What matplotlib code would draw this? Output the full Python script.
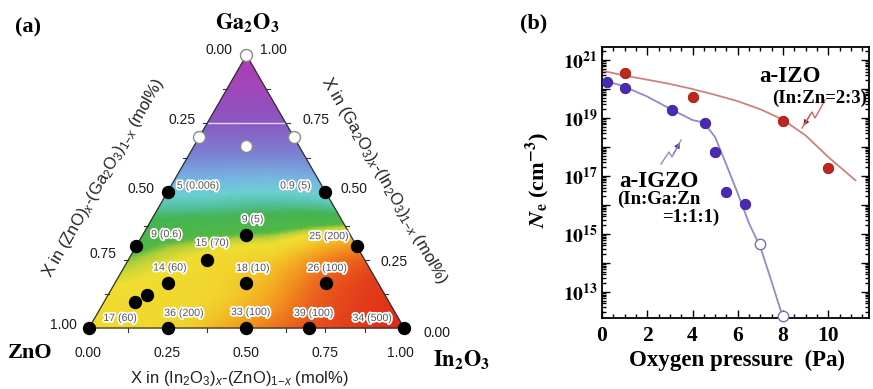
import numpy as np
import matplotlib
matplotlib.use('Agg')
import matplotlib.pyplot as plt
import matplotlib.tri as mtri
import matplotlib.patheffects as pe
from matplotlib.colors import LinearSegmentedColormap
from matplotlib.lines import Line2D
from matplotlib.patches import FancyArrowPatch
from matplotlib.ticker import MultipleLocator, FuncFormatter, NullFormatter, FixedLocator

plt.rcParams['mathtext.fontset'] = 'stix'
plt.rcParams['mathtext.rm'] = 'Liberation Sans'
plt.rcParams['mathtext.it'] = 'Liberation Sans:italic'
plt.rcParams['mathtext.bf'] = 'Liberation Sans:bold'

# ---------------- Panel (a) data: mole fractions (In2O3, Ga2O3); ZnO = rest
filled_in = [0.0, 0.25, 0.5, 0.7, 1.0, 0.0, 0.0, 0.5, 0.7, 0.33, 0.25, 1/6, 0.125, 0.1, 0.415, 0.67]
filled_ga = [0.0, 0.0, 0.0, 0.0, 0.0, 0.5, 0.3, 0.5, 0.3, 0.34, 0.25, 1/6, 0.12, 0.095, 0.165, 0.165]
point_labels = ['17 (60)', '36 (200)', '33 (100)', '39 (100)', '34 (500)', '5 (0.006)', '9 (0.6)',
                '0.9 (5)', '25 (200)', '9 (5)', '15 (70)', '14 (60)', '', '', '18 (10)', '26 (100)']
open_in = [0.0, 0.0, 0.3, 1/6]
open_ga = [1.0, 0.7, 0.7, 2/3]

# colour-map level on a 1/8 composition lattice (row = Ga2O3 fraction k/8)
field_rows = [
    [0.38, 0.38, 0.37, 0.32, 0.24, 0.16, 0.10, 0.05, 0.0],
    [0.39, 0.385, 0.375, 0.35, 0.29, 0.18, 0.10, 0.05],
    [0.44, 0.41, 0.385, 0.36, 0.32, 0.22, 0.14],
    [0.51, 0.50, 0.49, 0.48, 0.46, 0.44],
    [0.63, 0.63, 0.62, 0.62, 0.64],
    [0.74, 0.74, 0.74, 0.74],
    [0.85, 0.85, 0.85],
    [0.93, 0.93],
    [1.0],
]
axis_ticks = [0.0, 0.25, 0.5, 0.75, 1.0]
axis_ticklabels = ['0.00', '0.25', '0.50', '0.75', '1.00']

# ---------------- Panel (b) data
izo_p = [1.0, 4.0, 8.0, 10.0]
izo_ne = [3.5e20, 5.2e19, 7.9e18, 1.9e17]
igzo_p = [0.2, 1.0, 3.1, 4.55, 5.0, 5.5, 6.3]
igzo_ne = [1.7e20, 1.1e20, 1.9e19, 6.6e18, 6.5e17, 2.7e16, 1.1e16]
igzo_open_p = [7.0, 8.0]
igzo_open_ne = [4.6e14, 1.5e12]
izo_fit_p = [0, 1, 2, 3, 4, 5, 6, 7, 8, 9, 10, 11.2]
izo_fit_ne = [4.3e20, 2.9e20, 2.1e20, 1.5e20, 1.0e20, 6.3e19, 3.8e19, 2.0e19, 8.7e18, 2.5e18, 4.5e17, 7.1e16]
igzo_fit_p = [0, 0.5, 1, 2, 3, 4, 4.5, 5, 5.5, 6, 6.5, 7, 7.5, 8]
igzo_fit_ne = [2.0e20, 1.6e20, 1.2e20, 5.5e19, 2.1e19, 8.5e18, 7.0e18, 2.2e18, 2.4e17, 2.5e16, 2.3e15, 3.5e14, 2.2e13, 1.26e12]

W, H = 873, 389
fig = plt.figure(figsize=(W / 100, H / 100), dpi=100)

def fx(px):
    return px / W

def fy(py):
    return 1 - py / H

H3 = np.sqrt(3) / 2

def tern(a_in, a_ga):
    a_in = np.asarray(a_in, float)
    a_ga = np.asarray(a_ga, float)
    return a_in + a_ga / 2, a_ga * H3

# ---------------- Panel (a)
S = 315.0
ox, oy = 89.0, 328.0
axw = 500
ax = fig.add_axes([0, 0, axw / W, 1])
ax.set_xlim(-ox / S, (axw - ox) / S)
ax.set_ylim(-(H - oy) / S, oy / S)
ax.axis('off')

def p2d(px, py):
    return (px - ox) / S, (oy - py) / S

# colour field
n_in, n_ga, lev = [], [], []
for k, row in enumerate(field_rows):
    for i, v in enumerate(row):
        n_in.append(i / 8)
        n_ga.append(k / 8)
        lev.append(v)
nx, ny = tern(n_in, n_ga)
tri = mtri.Triangulation(nx, ny)
refiner = mtri.UniformTriRefiner(tri)
tri_f, lev_f = refiner.refine_field(np.array(lev), subdiv=4)
lev_f = np.clip(lev_f, 0, 1)
cm_stops = [(0.00, '#dc2818'), (0.08, '#e4401b'), (0.16, '#ec661d'), (0.24, '#f2921f'),
            (0.31, '#f2b824'), (0.36, '#f1d42c'), (0.40, '#efde32'), (0.43, '#b4d03a'),
            (0.45, '#52b846'), (0.53, '#44b452'), (0.58, '#58c2a8'), (0.62, '#6ccfd2'),
            (0.67, '#76b6e2'), (0.75, '#7a82d2'), (0.86, '#8b56c2'), (1.00, '#b23ab2')]
cmap = LinearSegmentedColormap.from_list('tern', cm_stops)
ax.tripcolor(tri_f, lev_f, shading='gouraud', cmap=cmap, vmin=0, vmax=1, zorder=1)

# white contour line at Ga2O3 = 0.75
wx, wy = tern([0.0, 0.25], [0.75, 0.75])
ax.plot(wx, wy, color='white', lw=1.0, alpha=0.75, zorder=2)

# outline
vx, vy = tern([0, 1, 0, 0], [0, 0, 1, 0])
ax.plot(vx, vy, color='#333333', lw=0.9, zorder=3)

# ticks along the edges
tl = 4 / S
for t in np.arange(1, 8) / 8:
    bx_, by_ = tern(t, 0)
    ax.plot([bx_, bx_], [by_, by_ - tl], color='#333333', lw=0.8, zorder=3)
    lx, ly = tern(0, t)
    ax.plot([lx, lx - tl], [ly, ly], color='#333333', lw=0.8, zorder=3)
    rx, ry = tern(1 - t, t)
    ax.plot([rx, rx + tl], [ry, ry], color='#333333', lw=0.8, zorder=3)

# points
px_, py_ = tern(filled_in, filled_ga)
ax.plot(px_, py_, 'o', ms=8.6, color='black', zorder=5, clip_on=False)
ox_, oy_ = tern(open_in, open_ga)
ax.plot(ox_, oy_, 'o', ms=8.6, mfc='white', mec='#8a8a8a', mew=1.0, zorder=5, clip_on=False)

label_offsets = [(31, 10), (16, 15), (4, 16), (4, 15), (-32, 10), (30, 6), (30, 12),
                 (-30, 6), (-28, 10), (6, 16), (5, 17), (2, 15), (0, 0), (0, 0), (7, 15), (1, 15)]
halo = [pe.withStroke(linewidth=2.5, foreground='white')]
for x_, y_, lab, off in zip(px_, py_, point_labels, label_offsets):
    if lab:
        ax.annotate(lab, (x_, y_), xytext=off, textcoords='offset pixels', ha='center', va='center',
                    fontsize=7.6, family='Liberation Sans', color='#555555', path_effects=halo, zorder=6)

tick_kw = dict(textcoords='offset pixels', ha='center', va='center', fontsize=10,
               family='Liberation Sans', color='#1a1a1a')
# left axis: (ZnO)x-(Ga2O3)1-x, value = ZnO fraction
left_off = [(-27, 5), (-25, 3), (-27, 3), (-25, 6), (-26, 3)]
for v, lab, off in zip(axis_ticks, axis_ticklabels, left_off):
    ax.annotate(lab, tern(0, 1 - v), xytext=off, **tick_kw)
# right axis: (Ga2O3)x-(In2O3)1-x, value = Ga fraction
right_off = [(33, -5), (29, -2), (29, 3), (30, 3), (27, 5)]
for v, lab, off in zip(axis_ticks, axis_ticklabels, right_off):
    ax.annotate(lab, tern(1 - v, v), xytext=off, **tick_kw)
# bottom axis: (In2O3)x-(ZnO)1-x, value = In fraction
bot_off = [(-1, -25), (-1, -25), (0, -25), (0, -25), (-4, -25)]
for v, lab, off in zip(axis_ticks, axis_ticklabels, bot_off):
    ax.annotate(lab, tern(v, 0), xytext=off, **tick_kw)

title_kw = dict(ha='center', va='center', fontsize=12, family='Liberation Sans', color='#222222',
                math_fontfamily='custom')
ax.text(*p2d(239, 379), r'X in (In$_2$O$_3$)$_x$-(ZnO)$_{1\mathrm{-}x}$ (mol%)', **title_kw)
ax.text(*p2d(104, 178), r'X in (ZnO)$_x$-(Ga$_2$O$_3$)$_{1\mathrm{-}x}$ (mol%)', rotation=60,
        rotation_mode='anchor', **title_kw)
ax.text(*p2d(384, 180), r'X in (Ga$_2$O$_3$)$_x$-(In$_2$O$_3$)$_{1\mathrm{-}x}$ (mol%)', rotation=-60,
        rotation_mode='anchor', **title_kw)

vert_kw = dict(ha='center', va='center', fontsize=16, family='Liberation Serif', fontweight='bold')
ax.text(*p2d(247, 23), r'$\mathbf{Ga_2O_3}$', **vert_kw)
ax.text(*p2d(30, 353), 'ZnO', **vert_kw)
ax.text(*p2d(462, 360), r'$\mathbf{In_2O_3}$', **vert_kw)

fig.text(fx(28), fy(27), '(a)', ha='center', va='center', fontsize=16, family='Liberation Serif',
         fontweight='bold')
fig.text(fx(534), fy(23), '(b)', ha='center', va='center', fontsize=16, family='Liberation Serif',
         fontweight='bold')

# ---------------- Panel (b)
L, R, T, B = 602, 869, 47, 318
bx = fig.add_axes([fx(L), 1 - B / H, (R - L) / W, (B - T) / H])
bx.set_yscale('log')
bx.set_xlim(0, 11.8)
bx.set_ylim(10 ** 12.1, 10 ** 21.45)

bx.plot(izo_fit_p, izo_fit_ne, color='#d08080', lw=1.3, zorder=2)
bx.plot(igzo_fit_p, igzo_fit_ne, color='#8c8ccc', lw=1.3, zorder=2)
bx.plot(izo_p, izo_ne, 'o', ms=7.5, mfc='#c0261c', mec='#9a1a12', mew=0.6, zorder=4, clip_on=False)
bx.plot(igzo_p, igzo_ne, 'o', ms=7.5, mfc='#4a2ab4', mec='#3a1e90', mew=0.6, zorder=4, clip_on=False)
bx.plot(igzo_open_p, igzo_open_ne, 'o', ms=7.5, mfc='white', mec='#7272b8', mew=1.0, zorder=4, clip_on=False)

for s in bx.spines.values():
    s.set_linewidth(1.3)
bx.xaxis.set_major_locator(MultipleLocator(2))
bx.xaxis.set_minor_locator(MultipleLocator(0.5))
decades = np.arange(12, 22)
bx.yaxis.set_major_locator(FixedLocator(10.0 ** decades))
bx.yaxis.set_minor_locator(FixedLocator([m * 10.0 ** d for d in decades for m in range(2, 10)]))
bx.yaxis.set_minor_formatter(NullFormatter())

def yfmt(v, pos):
    e = int(round(np.log10(v)))
    return r'$\mathbf{10^{%d}}$' % e if e % 2 == 1 else ''

bx.yaxis.set_major_formatter(FuncFormatter(yfmt))
bx.tick_params(which='both', direction='in', top=True, right=True, width=1.0)
bx.tick_params(which='major', length=6)
bx.tick_params(which='minor', length=3)
bx.tick_params(axis='y', which='major', labelsize=14, pad=3)
bx.tick_params(axis='x', which='major', labelsize=15.5, pad=6)
for lab in bx.get_xticklabels():
    lab.set_fontfamily('Liberation Serif')
    lab.set_fontweight('bold')

fig.text(fx(737), fy(360), 'Oxygen pressure  (Pa)', ha='center', va='center', fontsize=16.5,
         family='Liberation Serif', fontweight='bold')
fig.text(fx(537), fy(180), r'$\mathbfit{N}_{\mathbf{e}}$ (cm$^{\mathbf{-3}}$)', ha='center', va='center',
         rotation=90, fontsize=16, family='Liberation Serif', fontweight='bold')

fig.text(fx(790), fy(77), 'a-IZO', ha='center', va='center', fontsize=16.5, family='Liberation Serif',
         fontweight='bold')
fig.text(fx(820), fy(98), '(In:Zn=2:3)', ha='center', va='center', fontsize=13.5, family='Liberation Serif',
         fontweight='bold')
fig.text(fx(659), fy(181), 'a-IGZO', ha='center', va='center', fontsize=16.5, family='Liberation Serif',
         fontweight='bold')
fig.text(fx(617), fy(199), '(In:Ga:Zn', ha='left', va='center', fontsize=13.5, family='Liberation Serif',
         fontweight='bold')
fig.text(fx(662), fy(217), '=1:1:1)', ha='left', va='center', fontsize=13.5, family='Liberation Serif',
         fontweight='bold')

def zigzag(pts, color, headcolor):
    xs = [fx(p[0]) for p in pts]
    ys = [fy(p[1]) for p in pts]
    fig.add_artist(Line2D(xs, ys, transform=fig.transFigure, color=color, lw=1.0))
    fig.add_artist(FancyArrowPatch((xs[-2], ys[-2]), (xs[-1], ys[-1]),
                   transform=fig.transFigure, arrowstyle='-|>', mutation_scale=8,
                   color=headcolor, lw=0.8))

zigzag([(825, 100), (815, 118), (812, 112), (802, 128)], '#cc6a6a', '#8a1a1a')
zigzag([(661, 164), (669, 152), (672, 157), (681, 140)], '#8c8ccc', '#3a2a90')

fig.savefig('out.png', dpi=100)
